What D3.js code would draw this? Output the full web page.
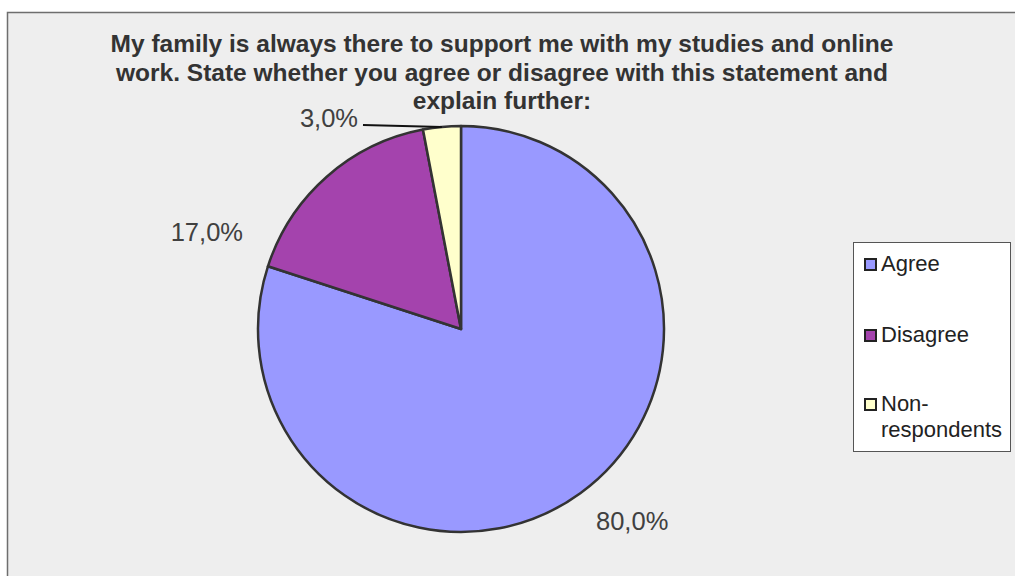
<!DOCTYPE html>
<html>
<head>
<meta charset="utf-8">
<script src="https://cdn.jsdelivr.net/npm/d3@7"></script>
<style>
  html, body { margin: 0; padding: 0; background: #fff; }
  svg { display: block; }
</style>
</head>
<body>
<div id="chart"></div>
<script>
// data
const categories = ["Agree", "Disagree", "Non-respondents"];
const values = [80.0, 17.0, 3.0];
const colors = ["#9999ff", "#a443ad", "#ffffcc"];
const titleLines = [
    "My family is always there to support me with my studies and online",
    "work. State whether you agree or disagree with this statement and",
    "explain further:"
];
const legendLines = [["Agree"], ["Disagree"], ["Non-", "respondents"]];

const width = 1015, height = 576;
const cx = 461, cy = 329, radius = 203;

const svg = d3.select("#chart").append("svg")
    .attr("width", width).attr("height", height);

// chart background & frame
svg.append("rect")
    .attr("x", 7.5).attr("y", 12.5)
    .attr("width", 1020).attr("height", 600)
    .attr("fill", "#eeeeee")
    .attr("stroke", "#6e6e6e").attr("stroke-width", 1.5);

// title
svg.append("text")
    .attr("x", 502).attr("y", 52)
    .attr("text-anchor", "middle")
    .attr("font-family", "Liberation Sans, Arial, sans-serif")
    .attr("font-size", 24.5).attr("font-weight", "bold")
    .attr("fill", "#333")
    .selectAll("tspan").data(titleLines).join("tspan")
    .attr("x", 502).attr("dy", (d, i) => i === 0 ? 0 : 28.5)
    .text(d => d);

// pie
const pie = d3.pie().sort(null).value(d => d);
const arcs = pie(values);
const arc = d3.arc().innerRadius(0).outerRadius(radius);

const g = svg.append("g").attr("transform", `translate(${cx},${cy})`);

g.selectAll("path").data(arcs).join("path")
    .attr("d", arc)
    .attr("fill", (d, i) => colors[i])
    .attr("stroke", "#333")
    .attr("stroke-width", 2.5)
    .attr("stroke-linejoin", "round");

// labels
const fmt = v => v.toFixed(1).replace(".", ",") + "%";
const labelFont = "Liberation Sans, Arial, sans-serif";
const labelPos = [
    { x: 596, y: 530, anchor: "start" },
    { x: 243, y: 241, anchor: "end" },
    { x: 358, y: 127, anchor: "end" }
];

// leader line for the small slice
const small = arcs[2];
const midA = (small.startAngle + small.endAngle) / 2;
const edge = [cx + radius * Math.sin(midA), cy - radius * Math.cos(midA)];
svg.append("path")
    .attr("d", d3.line()([[363, 125], edge]))
    .attr("stroke", "#111").attr("stroke-width", 2).attr("fill", "none");

svg.selectAll("text.lbl").data(arcs).join("text")
    .attr("class", "lbl")
    .attr("x", (d, i) => labelPos[i].x)
    .attr("y", (d, i) => labelPos[i].y)
    .attr("text-anchor", (d, i) => labelPos[i].anchor)
    .attr("font-family", labelFont)
    .attr("font-size", 25.5)
    .attr("fill", "#404040")
    .text(d => fmt(d.data));

// legend
const legend = svg.append("g");
legend.append("rect")
    .attr("x", 853.5).attr("y", 242.5)
    .attr("width", 157).attr("height", 209)
    .attr("fill", "#ffffff")
    .attr("stroke", "#555").attr("stroke-width", 1);

const legendBase = [271, 342, 411];
const items = legend.selectAll("g.item").data(categories).join("g").attr("class", "item");
items.append("rect")
    .attr("x", 865).attr("y", (d, i) => legendBase[i] - 12)
    .attr("width", 11).attr("height", 11)
    .attr("fill", (d, i) => colors[i])
    .attr("stroke", "#222").attr("stroke-width", 2);
items.append("text")
    .attr("font-family", labelFont)
    .attr("font-size", 22)
    .attr("fill", "#222")
    .attr("y", (d, i) => legendBase[i])
    .selectAll("tspan").data((d, i) => legendLines[i]).join("tspan")
    .attr("x", 881).attr("dy", (d, j) => j === 0 ? 0 : 26)
    .text(d => d);
</script>
</body>
</html>
